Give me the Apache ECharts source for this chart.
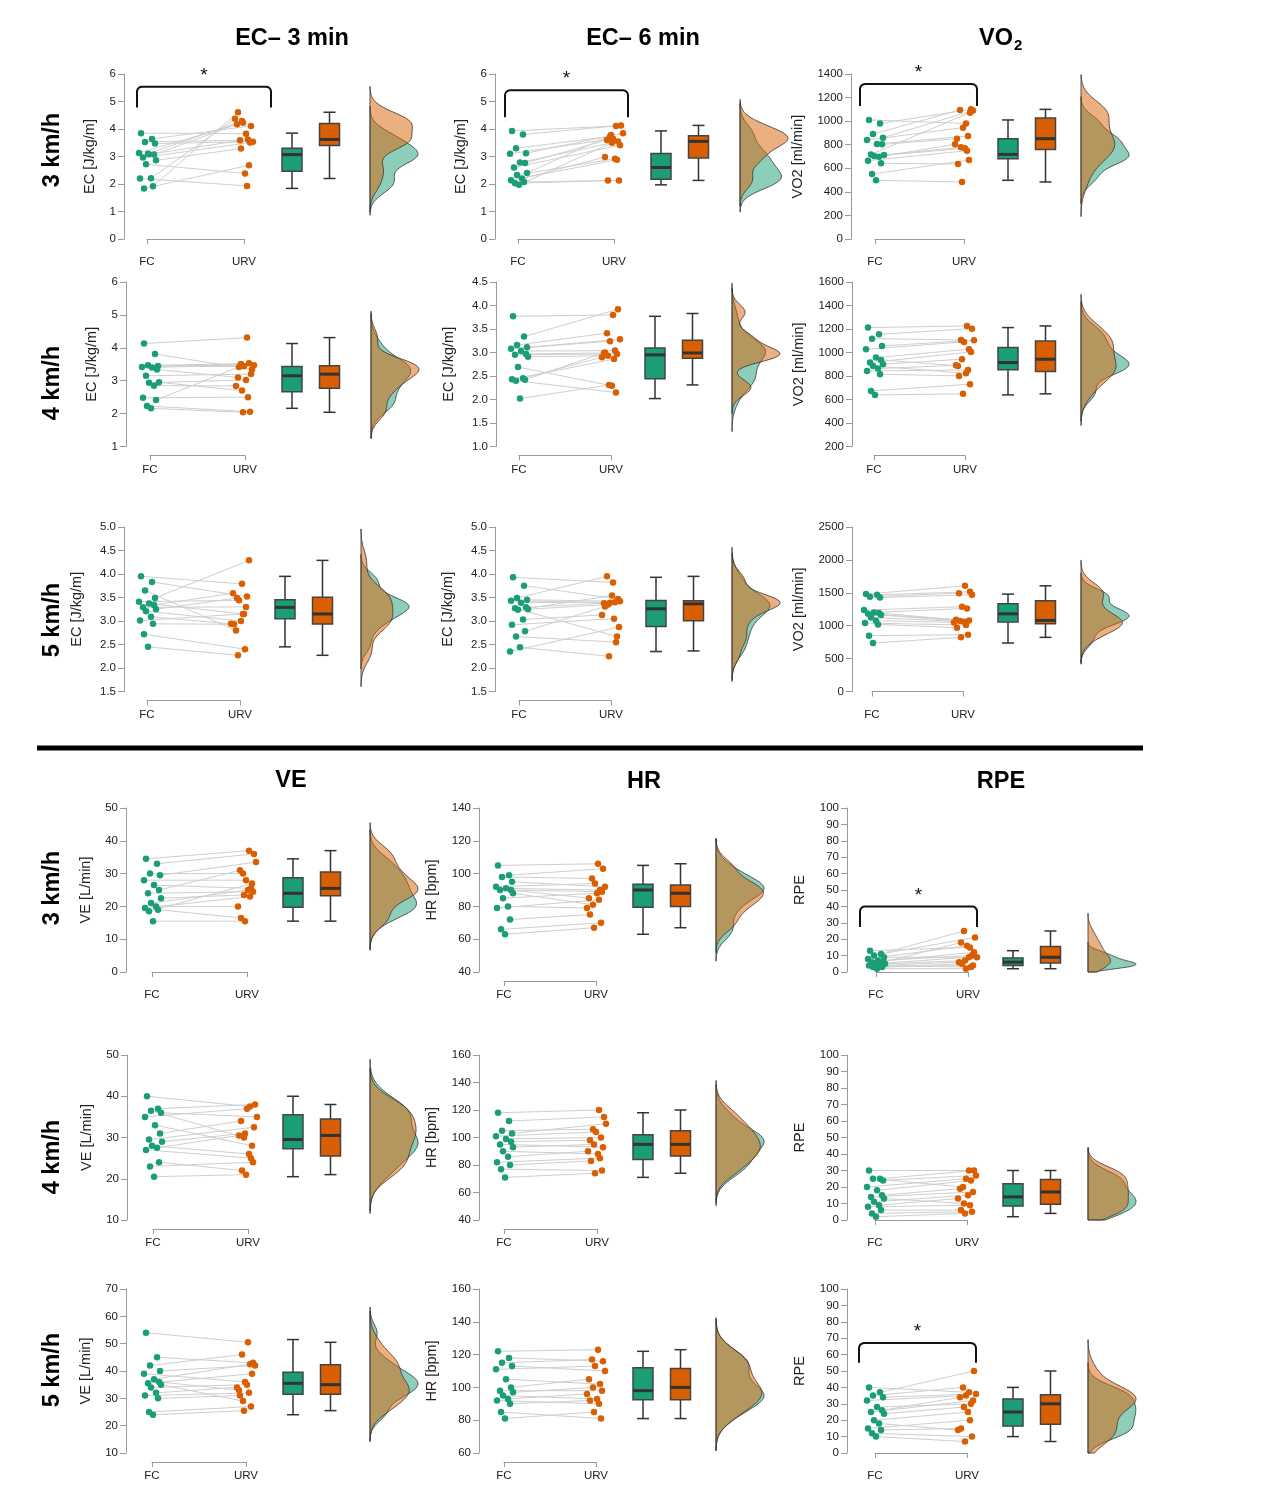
<!DOCTYPE html>
<html>
<head>
<meta charset="utf-8">
<title>EC, VO2, VE, HR, RPE - FC vs URV</title>
<script src="https://cdn.jsdelivr.net/npm/echarts@6/dist/echarts.min.js"></script>
<style>
html, body { margin: 0; padding: 0; background: #fff; }
#main { width: 1280px; height: 1512px; }
</style>
</head>
<body>
<div id="main"></div>
<script>
const GREEN = '#1b9e77';
const ORANGE = '#d95f02';

// ---- EC - 3 min [J/kg/m] ----
const ec3_3kmh_FC = [3.85, 3.64, 3.53, 3.47, 3.13, 3.08, 3.07, 2.96, 2.86, 2.72, 2.21, 2.20, 1.92, 1.84, 3.10];
const ec3_3kmh_URV = [3.83, 4.11, 3.59, 3.54, 4.23, 3.62, 4.17, 3.51, 3.29, 2.38, 4.37, 1.93, 4.61, 2.68, 4.29];
const ec3_4kmh_FC = [4.13, 3.81, 3.47, 3.45, 3.42, 3.40, 3.34, 3.15, 2.95, 2.94, 2.85, 2.48, 2.41, 2.23, 2.16];
const ec3_4kmh_URV = [4.31, 3.34, 3.51, 3.47, 3.44, 3.53, 3.10, 3.20, 2.70, 3.02, 2.84, 2.50, 3.42, 2.06, 2.04];
const ec3_5kmh_FC = [3.95, 3.83, 3.65, 3.49, 3.41, 3.37, 3.34, 3.29, 3.25, 3.21, 3.09, 3.01, 2.94, 2.72, 2.45];
const ec3_5kmh_URV = [3.79, 3.52, 2.80, 4.29, 3.44, 3.15, 3.59, 3.30, 3.49, 3.00, 2.94, 3.15, 2.93, 2.40, 2.27];

// ---- EC - 6 min [J/kg/m] ----
const ec6_3kmh_FC = [3.93, 3.80, 3.30, 3.12, 3.10, 2.78, 2.76, 2.60, 2.40, 2.33, 2.20, 2.14, 2.07, 2.03, 1.97];
const ec6_3kmh_URV = [4.11, 4.13, 3.73, 3.85, 3.65, 3.55, 3.60, 3.41, 3.78, 2.92, 2.98, 2.88, 2.13, 2.13, 3.50];
const ec6_4kmh_FC = [3.77, 3.34, 3.16, 3.11, 3.08, 3.03, 2.97, 2.95, 2.91, 2.69, 2.45, 2.43, 2.42, 2.40, 2.02];
const ec6_4kmh_URV = [3.80, 3.92, 3.41, 3.28, 3.24, 3.04, 2.99, 2.97, 2.93, 2.29, 2.90, 2.86, 3.00, 2.15, 2.31];
const ec6_5kmh_FC = [3.93, 3.75, 3.49, 3.45, 3.43, 3.39, 3.29, 3.27, 3.25, 3.24, 3.03, 2.92, 2.78, 2.67, 2.44, 2.35];
const ec6_5kmh_URV = [3.82, 3.47, 3.95, 3.42, 3.39, 3.40, 3.38, 2.67, 3.35, 3.54, 3.13, 3.05, 3.31, 2.55, 2.25, 2.87];

// ---- VO2 [ml/min] ----
const vo2_3kmh_FC = [1010, 981, 891, 860, 840, 806, 803, 718, 713, 704, 698, 665, 642, 551, 498];
const vo2_3kmh_URV = [981, 1100, 1094, 1090, 945, 874, 851, 1072, 778, 769, 803, 749, 636, 670, 484];
const vo2_4kmh_FC = [1212, 1155, 1118, 1056, 1028, 957, 937, 914, 900, 886, 863, 843, 815, 673, 639];
const vo2_4kmh_URV = [1226, 1203, 1107, 1104, 1090, 1028, 886, 1005, 943, 823, 891, 852, 801, 730, 648];
const vo2_5kmh_FC = [1480, 1470, 1440, 1429, 1237, 1202, 1192, 1180, 1162, 1126, 1076, 1040, 1020, 848, 737];
const vo2_5kmh_URV = [1606, 1515, 1495, 1470, 1288, 1263, 1091, 1080, 1071, 1061, 1050, 1010, 970, 864, 823];

// ---- VE [L/min] ----
const ve_3kmh_FC = [34.5, 33, 30, 29.5, 28, 26.5, 25, 24, 22.5, 21, 20, 19.5, 19, 18.5, 15.5];
const ve_3kmh_URV = [37, 36, 30, 33.5, 28, 25.5, 31, 24.5, 23.5, 25, 20, 23, 16.5, 27, 15.5];
const ve_4kmh_FC = [40, 37, 36.5, 36, 35, 33, 31, 29.5, 29, 28, 27.5, 27, 24, 23, 20.5];
const ve_4kmh_URV = [37.5, 38, 30, 35, 37, 28, 34, 32.5, 31, 26, 30.5, 25, 22, 24, 21];
const ve_5kmh_FC = [54, 45, 42, 40, 39, 37, 36, 35.5, 35, 34, 32, 31, 30, 25, 24];
const ve_5kmh_URV = [50.5, 43, 46, 42, 36, 42.5, 33, 39, 29, 35, 34, 32, 31, 27, 25.5];

// ---- HR [bpm] ----
const hr_3kmh_FC = [105, 99, 98, 95, 92, 91, 90, 90, 88, 85, 80, 79, 72, 66, 63];
const hr_3kmh_URV = [106, 103, 97, 92, 94, 90, 85, 89, 81, 88, 79, 84, 75, 70, 67];
const hr_4kmh_FC = [118, 112, 105, 103, 101, 99, 97, 95, 93, 90, 86, 82, 80, 77, 71];
const hr_4kmh_URV = [120, 115, 106, 110, 104, 100, 98, 93, 95, 88, 90, 85, 83, 76, 74];
const hr_5kmh_FC = [122, 118, 115, 113, 111, 105, 100, 98, 97, 95, 93, 92, 90, 85, 81];
const hr_5kmh_URV = [123, 116, 117, 110, 113, 102, 105, 98, 100, 93, 96, 90, 92, 81, 85];

// ---- RPE ----
const rpe_3kmh_FC = [13, 11, 10, 9, 8, 7, 6, 6, 5, 5, 4, 4, 3, 3, 2];
const rpe_3kmh_URV = [15, 21, 25, 9, 16, 10, 18, 12, 7, 9, 6, 3, 5, 4, 2];
const rpe_4kmh_FC = [30, 25, 25, 24, 20, 18, 15, 14, 13, 11, 9, 8, 6, 4, 2];
const rpe_4kmh_URV = [30, 30, 20, 27, 25, 24, 19, 17, 10, 15, 13, 9, 6, 5, 4];
const rpe_5kmh_FC = [40, 37, 35, 34, 32, 28, 26, 25, 24, 20, 18, 15, 14, 12, 10];
const rpe_5kmh_URV = [37, 50, 40, 36, 35, 30, 34, 32, 28, 25, 14, 20, 15, 10, 7];

// ---- y tick labels ----
const ticksEC_0to6 = ['0', '1', '2', '3', '4', '5', '6'];
const ticksEC_1to6 = ['1', '2', '3', '4', '5', '6'];
const ticksEC_1to45 = ['1.0', '1.5', '2.0', '2.5', '3.0', '3.5', '4.0', '4.5'];
const ticksEC_15to5 = ['1.5', '2.0', '2.5', '3.0', '3.5', '4.0', '4.5', '5.0'];
const ticksVO2_3 = ['0', '200', '400', '600', '800', '1000', '1200', '1400'];
const ticksVO2_4 = ['200', '400', '600', '800', '1000', '1200', '1400', '1600'];
const ticksVO2_5 = ['0', '500', '1000', '1500', '2000', '2500'];
const ticksVE_3 = ['0', '10', '20', '30', '40', '50'];
const ticksVE_4 = ['10', '20', '30', '40', '50'];
const ticksVE_5 = ['10', '20', '30', '40', '50', '60', '70'];
const ticksHR_3 = ['40', '60', '80', '100', '120', '140'];
const ticksHR_4 = ['40', '60', '80', '100', '120', '140', '160'];
const ticksHR_5 = ['60', '80', '100', '120', '140', '160'];
const ticksRPE = ['0', '10', '20', '30', '40', '50', '60', '70', '80', '90', '100'];

const panels = [
  { name: 'EC [J/kg/m]', ticks: ticksEC_0to6, fc: ec3_3kmh_FC, urv: ec3_3kmh_URV },
  { name: 'EC [J/kg/m]', ticks: ticksEC_0to6, fc: ec6_3kmh_FC, urv: ec6_3kmh_URV },
  { name: 'VO2 [ml/min]', ticks: ticksVO2_3, fc: vo2_3kmh_FC, urv: vo2_3kmh_URV },
  { name: 'EC [J/kg/m]', ticks: ticksEC_1to6, fc: ec3_4kmh_FC, urv: ec3_4kmh_URV },
  { name: 'EC [J/kg/m]', ticks: ticksEC_1to45, fc: ec6_4kmh_FC, urv: ec6_4kmh_URV },
  { name: 'VO2 [ml/min]', ticks: ticksVO2_4, fc: vo2_4kmh_FC, urv: vo2_4kmh_URV },
  { name: 'EC [J/kg/m]', ticks: ticksEC_15to5, fc: ec3_5kmh_FC, urv: ec3_5kmh_URV },
  { name: 'EC [J/kg/m]', ticks: ticksEC_15to5, fc: ec6_5kmh_FC, urv: ec6_5kmh_URV },
  { name: 'VO2 [ml/min]', ticks: ticksVO2_5, fc: vo2_5kmh_FC, urv: vo2_5kmh_URV },
  { name: 'VE [L/min]', ticks: ticksVE_3, fc: ve_3kmh_FC, urv: ve_3kmh_URV },
  { name: 'HR [bpm]', ticks: ticksHR_3, fc: hr_3kmh_FC, urv: hr_3kmh_URV },
  { name: 'RPE', ticks: ticksRPE, fc: rpe_3kmh_FC, urv: rpe_3kmh_URV },
  { name: 'VE [L/min]', ticks: ticksVE_4, fc: ve_4kmh_FC, urv: ve_4kmh_URV },
  { name: 'HR [bpm]', ticks: ticksHR_4, fc: hr_4kmh_FC, urv: hr_4kmh_URV },
  { name: 'RPE', ticks: ticksRPE, fc: rpe_4kmh_FC, urv: rpe_4kmh_URV },
  { name: 'VE [L/min]', ticks: ticksVE_5, fc: ve_5kmh_FC, urv: ve_5kmh_URV },
  { name: 'HR [bpm]', ticks: ticksHR_5, fc: hr_5kmh_FC, urv: hr_5kmh_URV },
  { name: 'RPE', ticks: ticksRPE, fc: rpe_5kmh_FC, urv: rpe_5kmh_URV }
];

// ---- layout (pixels) ----
const rowBox = [[74, 239], [282, 446.5], [527, 691.5], [808, 972], [1055, 1220], [1289, 1453]];
// per panel: y axis line, FC, URV, first box centre, violin base
const colX = [
  [[124, 147, 244, 292, 370], [495, 518, 614, 661, 740], [851, 875, 964, 1008, 1081]],
  [[126, 150, 245, 292, 371], [496, 519, 611, 655, 732], [852, 874, 965, 1008, 1081]],
  [[124, 147, 240, 285, 361], [495, 519, 611, 656, 732], [852, 872, 963, 1008, 1081]],
  [[126, 152, 247, 293, 370], [479, 504, 596, 643, 716], [847, 876, 968, 1013, 1088]],
  [[127, 153, 248, 293, 370], [479, 504, 597, 643, 716], [847, 875, 967, 1013, 1088]],
  [[126, 152, 246, 293, 370], [479, 504, 596, 643, 716], [847, 875, 967, 1013, 1088]]
];
// significance brackets: y of bar and of the legs (axis units), x offsets from FC / URV
const brackets = {
  0: { top: 5.54, leg: 4.78, dl: -10, dr: 27 },
  1: { top: 5.41, leg: 4.43, dl: -13, dr: 14 },
  2: { top: 1315, leg: 1128, dl: -15, dr: 13 },
  11: { top: 40, leg: 27.4, dl: -16, dr: 9 },
  17: { top: 67, leg: 55, dl: -16, dr: 9 }
};
const JIT = [-6, 5, -2, 8, -8, 2, 7, -4, 9, -1, 4, -7, 6, -3, 1, -9, 3];
function jitter(i, side) {
  return JIT[(i + 5 * side) % JIT.length];
}

// gaussian kernel density (bandwidth like R's bw.nrd0)
function density(values, lo, hi) {
  const n = values.length;
  const s = values.slice().sort((a, b) => a - b);
  const mean = s.reduce((a, b) => a + b, 0) / n;
  const sd = Math.sqrt(s.reduce((a, b) => a + (b - mean) * (b - mean), 0) / (n - 1));
  const q = (p) => {
    const h = (n - 1) * p;
    const i = Math.floor(h);
    return s[i] + (h - i) * ((i + 1 < n ? s[i + 1] : s[i]) - s[i]);
  };
  const bw = 0.9 * Math.min(sd, (q(0.75) - q(0.25)) / 1.34) * Math.pow(n, -0.2);
  const from = Math.max(lo, s[0] - 3 * bw);
  const to = Math.min(hi, s[n - 1] + 3 * bw);
  const pts = [];
  for (let k = 0; k <= 90; k++) {
    const y = from + (to - from) * k / 90;
    let d = 0;
    s.forEach((v) => {
      d += Math.exp(-0.5 * ((y - v) / bw) * ((y - v) / bw));
    });
    pts.push([d / (n * bw * Math.sqrt(2 * Math.PI)), y]);
  }
  return pts;
}

function renderBox(params, api) {
  const i = params.dataIndex;
  const lo = api.coord([i, api.value(1)]);
  const q1 = api.coord([i, api.value(2)]);
  const md = api.coord([i, api.value(3)]);
  const q3 = api.coord([i, api.value(4)]);
  const hi = api.coord([i, api.value(5)]);
  const x = lo[0];
  const line = (x1, y1, x2, y2, w) => ({
    type: 'line',
    shape: { x1: x1, y1: y1, x2: x2, y2: y2 },
    style: { stroke: '#333', lineWidth: w }
  });
  return {
    type: 'group',
    children: [
      line(x, hi[1], x, q3[1], 1.5),
      line(x, q1[1], x, lo[1], 1.5),
      line(x - 6, hi[1], x + 6, hi[1], 1.5),
      line(x - 6, lo[1], x + 6, lo[1], 1.5),
      {
        type: 'rect',
        shape: { x: x - 10, y: q3[1], width: 20, height: q1[1] - q3[1] },
        style: { fill: i ? ORANGE : GREEN, stroke: '#444', lineWidth: 1.5 }
      },
      line(x - 10, md[1], x + 10, md[1], 3)
    ]
  };
}

function violinSeries(g, curve, fill) {
  return {
    type: 'custom',
    xAxisIndex: g,
    yAxisIndex: g,
    silent: true,
    data: curve,
    encode: { x: 0, y: 1 },
    renderItem: (params, api) => {
      if (params.dataIndex !== 0) return null;
      const ring = [[0, curve[0][1]]].concat(curve, [[0, curve[curve.length - 1][1]]]);
      return {
        type: 'polygon',
        shape: { points: ring.map((c) => api.coord(c)) },
        style: { fill: fill, stroke: '#333', lineWidth: 0.8 }
      };
    }
  };
}

function bracketSeries(g, b) {
  return {
    type: 'custom',
    xAxisIndex: g,
    yAxisIndex: g,
    silent: true,
    data: [[0, b.top, b.leg]],
    encode: { x: 0, y: [1, 2] },
    renderItem: (params, api) => {
      const a = api.coord([0, api.value(1)]);
      const c = api.coord([1, api.value(1)]);
      const legY = api.coord([0, api.value(2)])[1];
      const x1 = a[0] + b.dl;
      const x2 = c[0] + b.dr;
      const y = a[1];
      const r = 5;
      const pts = [[x1, legY]];
      for (let t = 0; t <= 4; t++) {
        const th = Math.PI / 2 * t / 4;
        pts.push([x1 + r - r * Math.cos(th), y + r - r * Math.sin(th)]);
      }
      for (let t = 4; t >= 0; t--) {
        const th = Math.PI / 2 * t / 4;
        pts.push([x2 - r + r * Math.cos(th), y + r - r * Math.sin(th)]);
      }
      pts.push([x2, legY]);
      return {
        type: 'group',
        children: [
          { type: 'polyline', shape: { points: pts }, style: { stroke: '#111', lineWidth: 2, fill: null } },
          {
            type: 'text',
            x: (x1 + x2) / 2,
            y: y - 11,
            style: { text: '*', fontSize: 19, fill: '#111', align: 'center', verticalAlign: 'middle' }
          }
        ]
      };
    }
  };
}

const option = {
  animation: false,
  backgroundColor: '#fff',
  textStyle: { fontFamily: 'Liberation Sans, Arial, sans-serif' },
  dataset: [],
  grid: [],
  xAxis: [],
  yAxis: [],
  series: [],
  graphic: []
};

panels.forEach(function (p, k) {
  const row = Math.floor(k / 3);
  const col = k % 3;
  const top = rowBox[row][0];
  const height = rowBox[row][1] - top;
  const [axisX, fcX, urvX, boxX, violinX] = colX[row][col];
  const ticks = p.ticks.map(Number);
  const yMin = ticks[0];
  const yMax = ticks[ticks.length - 1];
  const step = ticks[1] - ticks[0];
  const dec = (p.ticks[0].split('.')[1] || '').length;
  const longest = Math.max(...p.ticks.map((t) => t.length));
  const g = option.grid.length;
  const d = option.dataset.length;

  option.grid.push(
    { left: fcX, top: top, width: urvX - fcX, height: height },
    { left: boxX - 18.75, top: top, width: 75, height: height },
    { left: violinX, top: top, width: 48, height: height }
  );
  option.xAxis.push(
    {
      gridIndex: g,
      type: 'category',
      data: ['FC', 'URV'],
      boundaryGap: false,
      offset: 9,
      axisLine: { show: true, lineStyle: { color: '#9a9a9a', width: 1 } },
      axisTick: { show: true, length: 5, lineStyle: { color: '#9a9a9a' } },
      axisLabel: { margin: 8, fontSize: 11.5, color: '#222' }
    },
    { gridIndex: g + 1, type: 'category', data: ['FC', 'URV'], show: false },
    { gridIndex: g + 2, type: 'value', min: 0, max: 1, show: false }
  );
  const yScale = { type: 'value', min: yMin, max: yMax, interval: step, splitLine: { show: false } };
  option.yAxis.push(
    Object.assign({
      gridIndex: g,
      offset: fcX - axisX,
      name: p.name,
      nameLocation: 'middle',
      nameGap: 20 + 6.5 * longest,
      nameTextStyle: { fontSize: 14.5, color: '#222' },
      axisLine: { show: true, lineStyle: { color: '#9a9a9a', width: 1 } },
      axisTick: { show: true, length: 6, lineStyle: { color: '#9a9a9a' } },
      axisLabel: { margin: 8, fontSize: 11.5, color: '#222', formatter: (v) => v.toFixed(dec) }
    }, yScale),
    Object.assign({ gridIndex: g + 1, show: false }, yScale),
    Object.assign({ gridIndex: g + 2, show: false }, yScale)
  );

  // raw values -> boxplot statistics (done by echarts)
  option.dataset.push(
    { source: [p.fc, p.urv] },
    {
      fromDatasetIndex: d,
      transform: { type: 'boxplot', config: { itemNameFormatter: (params) => ['FC', 'URV'][params.value] } }
    }
  );

  // paired lines
  option.series.push({
    type: 'custom',
    xAxisIndex: g,
    yAxisIndex: g,
    silent: true,
    data: p.fc.map((v, i) => [0, v, p.urv[i]]),
    encode: { x: 0, y: [1, 2] },
    renderItem: (params, api) => {
      const i = params.dataIndex;
      const a = api.coord([0, api.value(1)]);
      const b = api.coord([1, api.value(2)]);
      return {
        type: 'line',
        shape: { x1: a[0] + jitter(i, 0), y1: a[1], x2: b[0] + jitter(i, 1), y2: b[1] },
        style: { stroke: '#cfcfcf', lineWidth: 1 }
      };
    }
  });

  // points
  [p.fc, p.urv].forEach(function (vals, side) {
    option.series.push({
      type: 'scatter',
      xAxisIndex: g,
      yAxisIndex: g,
      clip: false,
      symbolSize: 6.5,
      itemStyle: { color: side ? ORANGE : GREEN, opacity: 1 },
      data: vals.map((v, i) => ({ value: [side, v], symbolOffset: [jitter(i, side), 0] }))
    });
  });

  // boxes
  option.series.push({
    type: 'custom',
    xAxisIndex: g + 1,
    yAxisIndex: g + 1,
    datasetIndex: d + 1,
    encode: { x: 0, y: [1, 2, 3, 4, 5] },
    renderItem: renderBox
  });

  // half violins, both scaled by the larger peak
  const dFC = density(p.fc, yMin, yMax);
  const dURV = density(p.urv, yMin, yMax);
  const peak = Math.max(...dFC.map((c) => c[0]), ...dURV.map((c) => c[0]));
  const norm = (curve) => curve.map((c) => [c[0] / peak, c[1]]);
  option.series.push(
    violinSeries(g + 2, norm(dFC), 'rgba(27,158,119,0.5)'),
    violinSeries(g + 2, norm(dURV), 'rgba(217,95,2,0.5)')
  );

  if (brackets[k]) {
    option.series.push(bracketSeries(g, brackets[k]));
  }
});

// titles, row labels, separator
const headerFont = 'bold 23.5px "Liberation Sans", Arial, sans-serif';
[
  ['EC– 3 min', 292, 39], ['EC– 6 min', 643, 39],
  ['VE', 291, 781], ['HR', 644, 782], ['RPE', 1001, 782]
].forEach(function (h) {
  option.graphic.push({
    type: 'text', x: h[1], y: h[2],
    style: { text: h[0], font: headerFont, fill: '#000', align: 'center', verticalAlign: 'middle' }
  });
});
option.graphic.push(
  { type: 'text', x: 1013, y: 39, style: { text: 'VO', font: headerFont, fill: '#000', align: 'right', verticalAlign: 'middle' } },
  { type: 'text', x: 1014, y: 46, style: { text: '2', font: 'bold 15px "Liberation Sans", Arial, sans-serif', fill: '#000', align: 'left', verticalAlign: 'middle' } }
);
[['3 km/h', 150], ['4 km/h', 383], ['5 km/h', 620], ['3 km/h', 888], ['4 km/h', 1157], ['5 km/h', 1370]].forEach(function (r) {
  option.graphic.push({
    type: 'text', x: 53, y: r[1], rotation: Math.PI / 2,
    style: { text: r[0], font: headerFont, fill: '#000', align: 'center', verticalAlign: 'middle' }
  });
});
option.graphic.push({
  type: 'line',
  shape: { x1: 37, y1: 748, x2: 1143, y2: 748 },
  style: { stroke: '#000', lineWidth: 5 }
});

const chart = echarts.init(document.getElementById('main'));
chart.setOption(option);
</script>
</body>
</html>
